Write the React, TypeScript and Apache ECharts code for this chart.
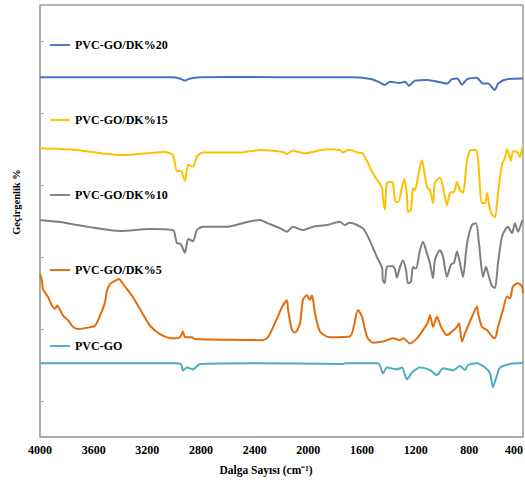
import React, { useEffect, useRef } from "react";
import * as echarts from "echarts";

// wavenumber (cm-1), transmittance-like offset value
const xTicks = [4000, 3600, 3200, 2800, 2400, 2000, 1600, 1200, 800, 400];
const seriesNames = ["PVC-GO/DK%20", "PVC-GO/DK%15", "PVC-GO/DK%10", "PVC-GO/DK%5", "PVC-GO"];

const dk20: number[][] = [
  [4000, 99.9], [3500, 99.9], [3010, 99.9], [2960, 99.6], [2920, 99.0], [2895, 99.4], [2860, 99.7],
  [2800, 99.9], [2400, 100.0], [2000, 99.9], [1690, 99.9], [1600, 99.8], [1520, 99.3], [1470, 98.5],
  [1430, 97.8], [1390, 98.7], [1320, 98.3], [1280, 98.7], [1250, 97.6], [1205, 99.0], [1115, 99.2],
  [1040, 98.7], [965, 98.2], [930, 99.4], [890, 99.6], [855, 97.9], [815, 99.4], [745, 99.8],
  [700, 98.2], [660, 98.2], [630, 97.1], [610, 96.4], [585, 98.2], [520, 99.4], [400, 99.6],
];

const dk15: number[][] = [
  [4000, 80.2], [3750, 79.8], [3380, 78.3], [3080, 79.2], [3010, 78.3], [2980, 73.9], [2950, 73.9],
  [2920, 71.1], [2895, 75.6], [2860, 75.1], [2830, 77.9], [2790, 79.0], [2510, 79.0], [2360, 79.7],
  [2190, 79.2], [2160, 78.6], [2120, 79.5], [2025, 78.8], [1860, 79.9], [1765, 79.7], [1740, 79.0],
  [1710, 79.7], [1690, 79.7], [1630, 79.0], [1595, 78.8], [1520, 73.3], [1450, 69.1], [1445, 66.7],
  [1430, 63.1], [1415, 70.6], [1390, 70.8], [1370, 70.6], [1350, 65.3], [1330, 65.3], [1300, 69.7],
  [1285, 71.7], [1265, 67.2], [1257, 62.5], [1235, 63.1], [1220, 69.2], [1205, 68.6], [1183, 72.2],
  [1153, 76.9], [1138, 74.2], [1116, 69.4], [1093, 68.6], [1071, 65.0], [1056, 70.6], [1019, 72.0],
  [996, 69.4], [967, 64.4], [944, 67.8], [914, 68.1], [892, 70.8], [870, 68.6], [847, 67.8],
  [817, 76.9], [788, 79.7], [750, 79.7], [735, 76.9], [706, 65.0], [683, 65.0], [668, 67.8],
  [653, 64.4], [631, 61.7], [609, 61.1], [586, 67.8], [557, 75.6], [534, 77.5], [519, 80.0],
  [490, 76.7], [475, 79.4], [445, 79.2], [422, 77.8], [408, 80.0], [400, 80.6],
];

const dk10: number[][] = [
  [4000, 60.3], [3850, 59.7], [3630, 58.3], [3400, 57.2], [3180, 57.8], [3010, 57.5], [2980, 53.9],
  [2950, 53.6], [2920, 51.2], [2895, 55.0], [2860, 54.4], [2830, 57.5], [2785, 58.4], [2605, 58.4],
  [2490, 59.4], [2360, 60.3], [2310, 59.5], [2210, 58.0], [2160, 57.0], [2115, 58.4], [2040, 57.5],
  [1965, 58.4], [1860, 58.9], [1765, 59.8], [1730, 58.9], [1690, 59.5], [1595, 58.0], [1555, 55.6],
  [1490, 50.1], [1450, 46.9], [1445, 43.6], [1430, 42.8], [1415, 47.2], [1375, 47.5], [1355, 46.7],
  [1340, 44.3], [1317, 47.2], [1295, 49.0], [1272, 46.4], [1257, 42.7], [1235, 43.1], [1220, 47.2],
  [1198, 46.8], [1168, 51.9], [1145, 54.2], [1116, 51.0], [1093, 48.2], [1071, 44.1], [1056, 49.2],
  [1019, 51.9], [996, 50.1], [967, 44.5], [937, 47.9], [914, 48.4], [892, 51.5], [870, 48.4],
  [847, 44.5], [817, 53.8], [780, 58.9], [750, 59.4], [728, 53.8], [698, 44.5], [676, 47.3],
  [661, 45.5], [631, 41.9], [609, 41.4], [586, 48.4], [557, 55.6], [534, 57.5], [512, 58.4],
  [482, 56.6], [460, 59.4], [437, 57.0], [408, 59.8], [400, 60.3],
];

const dk5: number[][] = [
  [4000, 45.3], [3985, 43.4], [3978, 41.1], [3940, 38.9], [3911, 36.5], [3888, 35.6], [3873, 36.5],
  [3829, 33.8], [3790, 32.4], [3755, 30.6], [3717, 30.0], [3627, 30.5], [3590, 30.9], [3553, 33.7],
  [3516, 37.4], [3501, 40.6], [3478, 42.5], [3441, 43.4], [3411, 43.9], [3381, 42.5], [3352, 41.1],
  [3307, 38.8], [3240, 34.6], [3180, 30.9], [3106, 28.6], [3010, 27.4], [2957, 27.7], [2934, 29.3],
  [2919, 27.7], [2867, 27.7], [2845, 27.2], [2585, 27.0], [2340, 26.9], [2300, 27.7], [2235, 32.8],
  [2190, 36.5], [2160, 37.9], [2152, 35.6], [2122, 29.7], [2099, 29.0], [2062, 31.6], [2040, 38.1],
  [2010, 39.4], [1988, 38.1], [1973, 39.4], [1950, 34.4], [1913, 29.3], [1840, 27.7], [1690, 27.9],
  [1630, 35.3], [1600, 33.4], [1563, 27.9], [1518, 26.2], [1443, 26.5], [1369, 27.4], [1317, 26.9],
  [1294, 27.4], [1242, 26.0], [1190, 27.4], [1145, 29.7], [1108, 32.0], [1093, 33.9], [1071, 30.6],
  [1041, 33.4], [1011, 30.6], [967, 28.3], [929, 29.3], [892, 30.6], [877, 31.6], [855, 26.5],
  [832, 28.8], [780, 33.4], [743, 36.2], [735, 34.4], [706, 30.6], [668, 29.7], [631, 27.9],
  [609, 27.4], [586, 30.6], [549, 35.3], [519, 39.0], [497, 38.5], [475, 41.8], [437, 42.7],
  [408, 41.8], [400, 40.0],
];

const pvcGo: number[][] = [
  [4000, 20.5], [3010, 20.5], [2950, 20.3], [2934, 18.5], [2904, 19.3], [2860, 18.8], [2807, 20.3],
  [2400, 20.5], [1742, 20.3], [1720, 20.5], [1481, 20.5], [1443, 17.7], [1414, 19.3], [1339, 18.8],
  [1302, 19.3], [1265, 16.0], [1227, 17.9], [1168, 19.3], [1093, 18.6], [1041, 17.2], [996, 19.1],
  [922, 18.5], [870, 19.7], [832, 18.6], [810, 20.0], [743, 20.5], [683, 19.3], [646, 17.7],
  [624, 13.9], [594, 17.2], [571, 19.3], [497, 20.3], [422, 20.5], [400, 20.6],
];

const seriesData = [dk20, dk15, dk10, dk5, pvcGo];
const colors = ["#4472C4", "#FFC000", "#7F7F7F", "#E46C0A", "#4BACC6"];
const yTickValues = [10, 30, 50, 70, 90, 110];

const FONT = "'Times New Roman', 'Liberation Serif', serif";

export default function App() {
  const ref = useRef<HTMLDivElement>(null);
  useEffect(() => {
    if (!ref.current) return;
    const chart = echarts.init(ref.current, undefined, { renderer: "svg" });
    const legendTops = [39, 114, 189, 264, 340];
    chart.setOption({
      animation: false,
      backgroundColor: "#ffffff",
      grid: {
        left: 40, right: 2, top: 5, bottom: 44,
        show: true, borderColor: "#6b6b6b", borderWidth: 1,
        outerBoundsMode: "none",
        containLabel: false,
      },
      xAxis: {
        type: "value",
        inverse: true,
        min: 400,
        max: 4000,
        interval: 400,
        axisLine: { show: true, lineStyle: { color: "#a6a6a6", width: 1.5 } },
        axisTick: { show: false },
        splitLine: { show: false },
        axisLabel: {
          show: true, margin: 7, color: "#000", fontWeight: "bold", fontSize: 12, fontFamily: FONT,
          customValues: xTicks,
          showMinLabel: true, showMaxLabel: true, hideOverlap: false,
          alignMaxLabel: "right",
          formatter: (v: number) => String(v),
        },
      },
      yAxis: {
        type: "value",
        min: 0,
        max: 120,
        interval: 20,
        axisLine: { show: true, lineStyle: { color: "#a6a6a6", width: 1.5 } },
        axisTick: { show: true, inside: true, length: 4, lineStyle: { color: "#a6a6a6" }, customValues: yTickValues },
        axisLabel: { show: false },
        splitLine: { show: false },
      },
      legend: seriesNames.map((n, i) => ({
        data: [n],
        left: 50,
        top: legendTops[i],
        padding: 0,
        orient: "vertical",
        itemWidth: 20,
        itemHeight: 12,
        icon: "path://M0,5 L21,5 L21,7 L0,7 Z",
        textStyle: { color: "#000", fontWeight: "bold", fontSize: 12, fontFamily: FONT },
        selectedMode: false,
      })),
      graphic: [
        {
          type: "text",
          x: 16, y: 202, rotation: Math.PI / 2,
          style: {
            text: "Geçirgenlik %", fill: "#000", font: `bold 10.5px ${FONT}`,
            align: "center", verticalAlign: "middle",
          },
        },
        {
          type: "text",
          x: 266, y: 470,
          style: {
            text: "Dalga Sayısı (cm⁻¹)", fill: "#000", font: `bold 11.5px ${FONT}`,
            align: "center", verticalAlign: "middle",
          },
        },
      ],
      series: seriesNames.map((n, i) => ({
        name: n,
        type: "line",
        data: seriesData[i],
        symbol: "none",
        smooth: 0.25,
        color: colors[i],
        lineStyle: { width: 2, color: colors[i] },
        z: 2,
      })),
    });
    return () => chart.dispose();
  }, []);
  return <div ref={ref} style={{ position: "fixed", left: 0, top: 0, width: 525, height: 481 }} />;
}
